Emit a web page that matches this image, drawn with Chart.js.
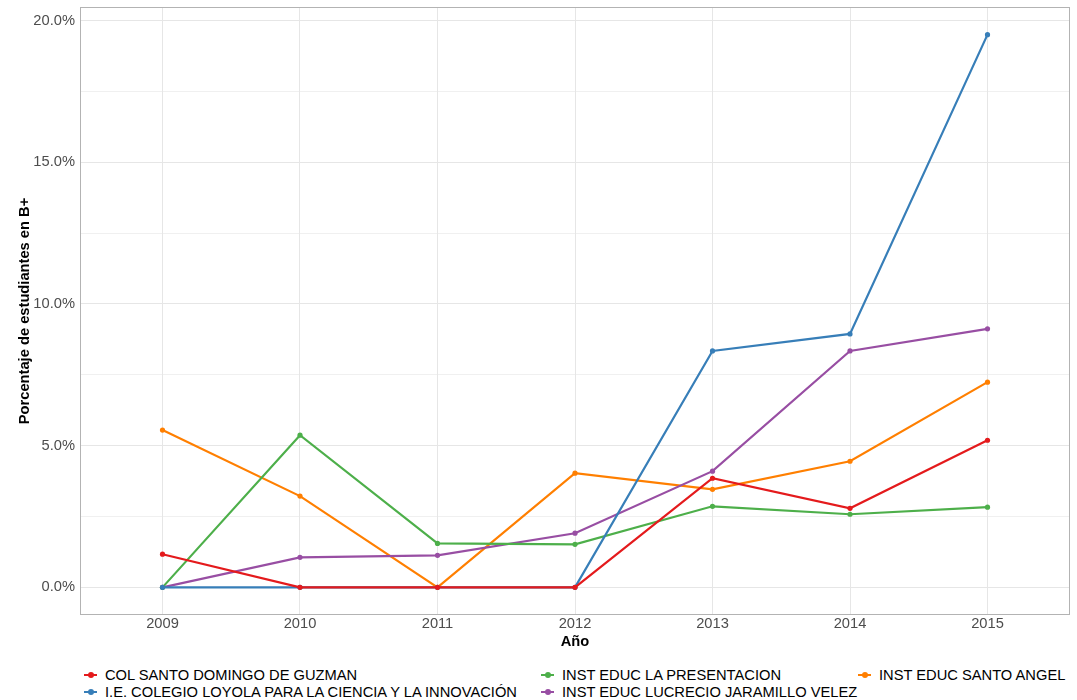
<!DOCTYPE html>
<html>
<head>
<meta charset="utf-8">
<script src="https://cdn.jsdelivr.net/npm/chart.js@4.4.1/dist/chart.umd.min.js"></script>
<style>
  body { margin: 0; background: #fff; font-family: "Liberation Sans", Arial, sans-serif; }
  #wrap { position: relative; width: 1077px; height: 700px; }
  #legend {
    position: absolute; left: 84px; top: 666px;
    display: grid; grid-template-rows: 17px 17px; grid-auto-flow: column;
    grid-template-columns: 457px 317px auto;
    font-size: 14.7px; color: #000;
  }
  .item { display: flex; align-items: center; white-space: nowrap; }
  .key { position: relative; width: 13px; height: 2px; margin-right: 8px; }
  .key i { position: absolute; left: 4px; top: -2px; width: 6px; height: 6px; border-radius: 50%; }
</style>
</head>
<body>
<div id="wrap">
  <canvas id="chart" width="1077" height="651"></canvas>
  <div id="legend"></div>
</div>
<script>
document.addEventListener("DOMContentLoaded", function() {

  // años y colegios
  const years = [2009, 2010, 2011, 2012, 2013, 2014, 2015];
  const schools = [
    'COL SANTO DOMINGO DE GUZMAN',
    'I.E. COLEGIO LOYOLA PARA LA CIENCIA Y LA INNOVACIÓN',
    'INST EDUC LA PRESENTACION',
    'INST EDUC LUCRECIO JARAMILLO VELEZ',
    'INST EDUC SANTO ANGEL'
  ];
  const colors = ['#E41A1C', '#377EB8', '#4DAF4A', '#984EA3', '#FF7F00'];

  // porcentaje de estudiantes en B+
  const santoDomingo = [1.17, 0, 0, 0, 3.85, 2.79, 5.19];
  const loyola       = [0, 0, 0, 0, 8.34, 8.94, 19.5];
  const presentacion = [0, 5.37, 1.55, 1.52, 2.86, 2.58, 2.83];
  const lucrecio     = [0, 1.06, 1.13, 1.91, 4.10, 8.34, 9.12];
  const santoAngel   = [5.55, 3.22, 0, 4.03, 3.46, 4.45, 7.24];

  const yTicks = [0, 2.5, 5, 7.5, 10, 12.5, 15, 17.5, 20];

  const series = [santoDomingo, loyola, presentacion, lucrecio, santoAngel];

  const datasets = series.map(function(vals, i) {
    return {
      label: schools[i],
      data: years.map(function(yr, j) { return { x: yr, y: vals[j] }; }),
      borderColor: colors[i],
      backgroundColor: colors[i],
      borderWidth: 2.2,
      pointRadius: 2.6,
      pointBorderWidth: 0,
      pointBackgroundColor: colors[i],
      tension: 0
    };
  });

  // borde del panel
  const panelBorder = {
    id: 'panelBorder',
    afterDatasetsDraw(chart) {
      const a = chart.chartArea;
      const ctx = chart.ctx;
      ctx.save();
      ctx.strokeStyle = '#B3B3B3';
      ctx.lineWidth = 1;
      ctx.strokeRect(Math.round(a.left) + 0.5, Math.round(a.top) + 0.5,
                     Math.round(a.right - a.left) - 1, Math.round(a.bottom - a.top) - 1);
      ctx.restore();
    }
  };

  const tickFont = { family: '"Liberation Sans", Arial, sans-serif', size: 14.7 };
  const titleFont = { family: '"Liberation Sans", Arial, sans-serif', size: 14.7, weight: 'bold' };

  new Chart(document.getElementById('chart'), {
    type: 'line',
    data: { datasets: datasets },
    plugins: [panelBorder],
    options: {
      responsive: false,
      devicePixelRatio: 1,
      animation: false,
      layout: { padding: { left: 0, top: 7, right: 7, bottom: 0 } },
      plugins: {
        legend: { display: false },
        tooltip: { enabled: false }
      },
      scales: {
        x: {
          type: 'linear',
          min: 2008.4,
          max: 2015.6,
          afterBuildTicks: function(s) { s.ticks = years.map(function(v) { return { value: v }; }); },
          afterFit: function(s) { s.height = 36; s.paddingLeft = 0; s.paddingRight = 0; },
          ticks: {
            color: '#4D4D4D', font: tickFont, padding: 0, maxRotation: 0,
            callback: function(v) { return String(v); }
          },
          grid: { color: '#E6E6E6', lineWidth: 1, drawTicks: false },
          border: { display: false },
          title: { display: true, text: 'Año', color: '#000', font: titleFont, padding: 0 }
        },
        y: {
          min: -0.975,
          max: 20.475,
          afterBuildTicks: function(s) { s.ticks = yTicks.map(function(v) { return { value: v }; }); },
          afterFit: function(s) { s.width = 80; s.paddingTop = 0; s.paddingBottom = 0; },
          ticks: {
            color: '#4D4D4D', font: tickFont, padding: 5,
            callback: function(v) { return v % 5 === 0 ? v.toFixed(1) + '%' : ''; }
          },
          grid: {
            color: '#E6E6E6',
            lineWidth: function(ctx) { return ctx.tick && ctx.tick.value % 5 === 0 ? 1 : 0.6; },
            drawTicks: false
          },
          border: { display: false },
          title: { display: true, text: 'Porcentaje de estudiantes en B+', color: '#000', font: titleFont, padding: { top: 16.6, bottom: 0 } }
        }
      }
    }
  });

  // leyenda en columnas, como ggplot
  const legend = document.getElementById('legend');
  schools.forEach(function(name, i) {
    const item = document.createElement('div');
    item.className = 'item';
    item.innerHTML = '<span class="key" style="background:' + colors[i] + '"><i style="background:' + colors[i] + '"></i></span>' + name;
    legend.appendChild(item);
  });
});
</script>
</body>
</html>
